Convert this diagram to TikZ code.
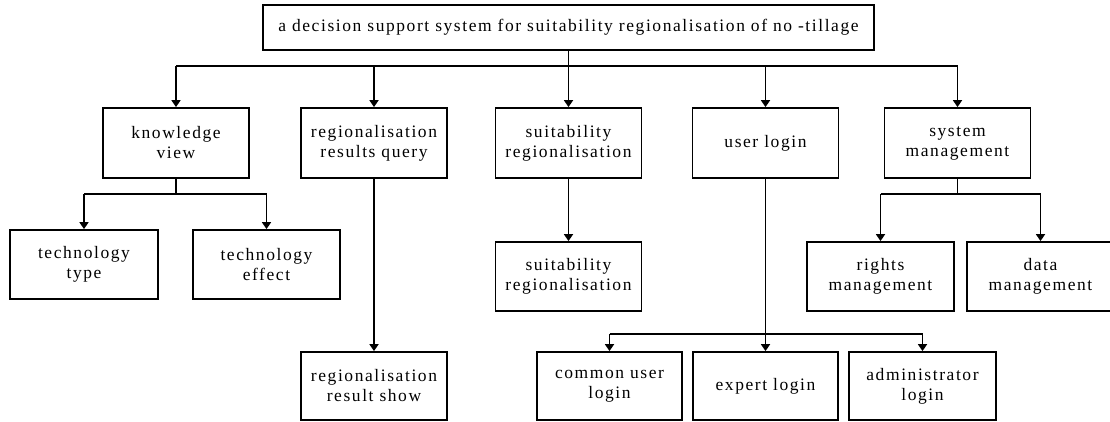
\documentclass[tikz,border=0pt]{standalone}
\usepackage{fontspec}
\setmainfont{Liberation Serif}[LetterSpace=9]
\usetikzlibrary{arrows.meta}
\tikzset{
  box/.style={draw, line width=1.8pt, minimum height=70pt, minimum width=146pt,
    align=center, inner sep=0pt, font=\fontsize{17.5}{20}\selectfont},
  conn/.style={line width=1.7pt},
  arr/.style={line width=1.7pt, -{Triangle[width=9pt,length=7pt]}}
}
\begin{document}
\begin{tikzpicture}[x=1pt,y=-1pt]
\useasboundingbox (0,0) rectangle (1110,421);
% root
\node[box, minimum width=611pt, minimum height=45pt] (top) at (568.5,27.5)
  {a decision support system for suitability regionalisation of no -tillage};
% level 1
\node[box] (kv) at (176,143) {knowledge\\view};
\node[box] (rq) at (374,143) {regionalisation\\results query};
\node[box] (sr) at (568.5,143) {suitability\\regionalisation};
\node[box] (ul) at (765.5,143) {user login};
\node[box] (sm) at (957.5,143) {system\\management};
% level 2
\node[box, minimum width=148pt, minimum height=69pt] (tt) at (84,264.5) {technology\\type};
\node[box, minimum width=147pt, minimum height=69pt] (te) at (266.5,264.5) {technology\\effect};
\node[box, minimum height=69pt] (sr2) at (568.5,276.5) {suitability\\regionalisation};
\node[box, minimum width=147pt, minimum height=69pt] (rm) at (880.5,276.5) {rights\\management};
\node[box, minimum width=147pt, minimum height=69pt] (dm) at (1040.5,276.5) {data\\management};
% level 3
\node[box, minimum height=68pt] (rs) at (374,386) {regionalisation\\result show};
\node[box, minimum width=145pt, minimum height=68pt] (cul) at (609.5,386) {common user\\login};
\node[box, minimum width=145pt, minimum height=68pt] (el) at (765.5,386) {expert login};
\node[box, minimum width=147pt, minimum height=68pt] (al) at (922.5,386) {administrator\\login};
% bus coordinates
\coordinate (bus) at (0,66);
\coordinate (kbus) at (0,194);
\coordinate (sbus) at (0,194);
\coordinate (ubus) at (0,334);
% root connectors
\draw[conn] (kv.north |- bus) -- (sm.north |- bus);
\draw[arr] (top.south) -- (sr.north);
\draw[arr] (kv.north |- bus) -- (kv.north);
\draw[arr] (rq.north |- bus) -- (rq.north);
\draw[arr] (ul.north |- bus) -- (ul.north);
\draw[arr] (sm.north |- bus) -- (sm.north);
% knowledge view
\draw[conn] (kv.south) -- (kv.south |- kbus);
\draw[conn] (tt.north |- kbus) -- (te.north |- kbus);
\draw[arr] (tt.north |- kbus) -- (tt.north);
\draw[arr] (te.north |- kbus) -- (te.north);
% query
\draw[arr] (rq.south) -- (rs.north);
% suitability
\draw[arr] (sr.south) -- (sr2.north);
% user login
\draw[arr] (ul.south) -- (el.north);
\draw[conn] (cul.north |- ubus) -- (al.north |- ubus);
\draw[arr] (cul.north |- ubus) -- (cul.north);
\draw[arr] (al.north |- ubus) -- (al.north);
% system management
\draw[conn] (sm.south) -- (sm.south |- sbus);
\draw[conn] (rm.north |- sbus) -- (dm.north |- sbus);
\draw[arr] (rm.north |- sbus) -- (rm.north);
\draw[arr] (dm.north |- sbus) -- (dm.north);
\end{tikzpicture}
\end{document}
